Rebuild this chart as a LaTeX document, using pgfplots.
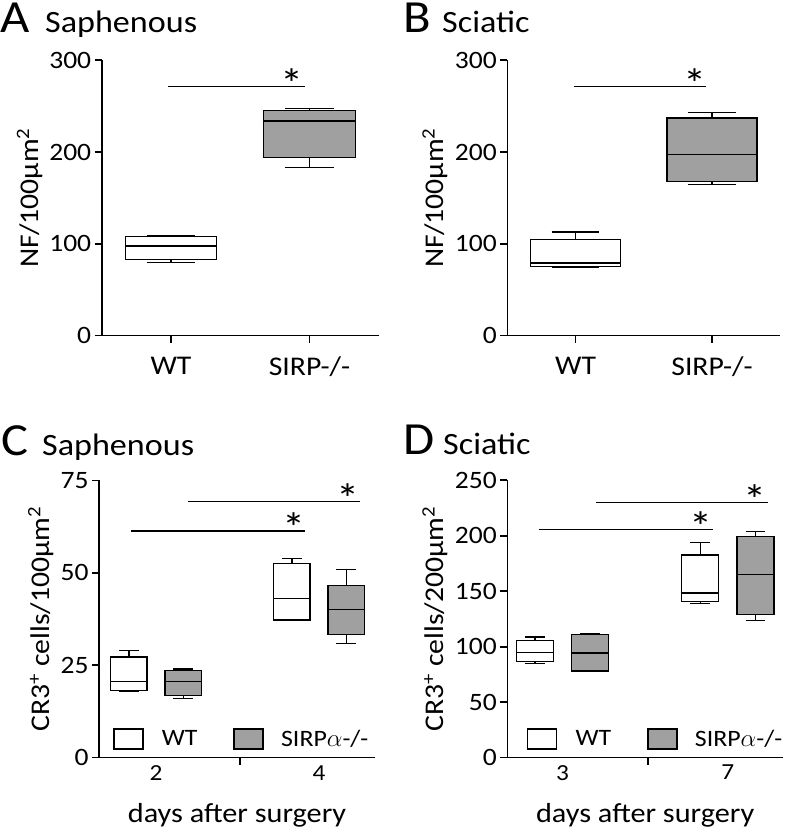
\documentclass[border=0pt]{standalone}
\usepackage{pgfplots}
\pgfplotsset{compat=1.18}
\usepgfplotslibrary{statistics}
\usepackage{fontspec}
\setmainfont{Carlito}[FakeStretch=1.1]
\definecolor{boxgray}{RGB}{160,160,160}

\tikzset{sigstar/.style={anchor=base, yshift=-12pt, inner sep=0pt, font=\fontsize{42}{44}\selectfont}}
\pgfplotsset{
  myax/.style={scale only axis, axis lines=left, axis line style={-, line width=1.6pt},
    tick align=outside, major tick length=7pt, tick style={line width=1.6pt, black},
    yticklabel style={font=\fontsize{25}{27}\selectfont},
    xticklabel style={font=\fontsize{27}{29}\selectfont},
    /pgf/number format/assume math mode=true,
    ylabel style={font=\fontsize{27}{29}\selectfont},
    xlabel style={font=\fontsize{27.5}{29}\selectfont},
    ylabel shift=0pt,
    clip=false, boxplot/draw direction=y},
  wt/.style={draw=black, fill=white, line width=1.3pt, forget plot},
  ko/.style={draw=black, fill=boxgray, line width=1.3pt, forget plot},
  sig/.style={black, line width=1.1pt, forget plot},
  leg/.style={legend style={draw=none, fill=none, legend columns=2, at={(#1,0.02)}, anchor=south west,
    font=\fontsize{23.5}{25}\selectfont, /tikz/every even column/.append style={column sep=34pt}}},
}
\newcommand{\wtimg}{\addlegendimage{legend image code/.code={\draw[fill=white, line width=1.3pt] (0pt,-10pt) rectangle (29pt,10pt); \path[draw=none, fill=none] (29pt,0pt) -- (46pt,0pt);}}}
\newcommand{\koimg}{\addlegendimage{legend image code/.code={\draw[fill=boxgray, line width=1.3pt] (0pt,-10pt) rectangle (29pt,10pt); \path[draw=none, fill=none] (29pt,0pt) -- (45pt,0pt);}}}

\begin{document}
\begin{tikzpicture}
\useasboundingbox (0pt,0pt) rectangle (787pt,832pt);

% titles
\node[anchor=base west, inner sep=0pt] at (0pt,799pt) {\fontsize{46}{48}\selectfont A};
\node[anchor=base west, inner sep=0pt] at (45pt,799pt) {\fontsize{31}{33}\selectfont Saphenous};
\node[anchor=base west, inner sep=0pt] at (403pt,799pt) {\fontsize{46}{48}\selectfont B};
\node[anchor=base west, inner sep=0pt] at (442pt,799pt) {\fontsize{31}{33}\selectfont Sciatic};
\node[anchor=base west, inner sep=0pt] at (1pt,376pt) {\fontsize{46}{48}\selectfont C};
\node[anchor=base west, inner sep=0pt] at (42pt,376pt) {\fontsize{31}{33}\selectfont Saphenous};
\node[anchor=base west, inner sep=0pt] at (403pt,377pt) {\fontsize{46}{48}\selectfont D};
\node[anchor=base west, inner sep=0pt] at (443pt,377pt) {\fontsize{31}{33}\selectfont Sciatic};

% Panel A
\begin{axis}[myax, at={(101.7pt,496.3pt)}, anchor=south west, width=277pt, height=275.4pt,
  xmin=-0.5, xmax=1.5, ymin=0, ymax=300, xtick={0,1}, xticklabels={WT,SIRP-/-},
  xticklabel style={yshift=-11pt},
  ytick={0,100,200,300}, ylabel={NF/100µm\textsuperscript{2}}]
\addplot[wt, boxplot prepared={draw position=0, box extend=0.66, whisker extend=0.35,
  lower whisker=79.5, lower quartile=82.8, median=97.7, upper quartile=108.2, upper whisker=109}] coordinates {};
\addplot[ko, boxplot prepared={draw position=1, box extend=0.66, whisker extend=0.35,
  lower whisker=183.4, lower quartile=194.3, median=233.9, upper quartile=245.6, upper whisker=247.4}] coordinates {};
\addplot[sig] coordinates {(-0.02,271.3) (0.97,271.3)};
\node[sigstar] at (axis cs:0.877,271.3) {*};
\end{axis}

% Panel B
\begin{axis}[myax, at={(507.3pt,496.3pt)}, anchor=south west, width=273pt, height=275.4pt,
  xmin=-0.5, xmax=1.5, ymin=0, ymax=300, xtick={0,1}, xticklabels={WT,SIRP-/-},
  xticklabel style={yshift=-11pt},
  ytick={0,100,200,300}, ylabel={NF/100µm\textsuperscript{2}}]
\addplot[wt, boxplot prepared={draw position=0, box extend=0.66, whisker extend=0.35,
  lower whisker=74.1, lower quartile=75.2, median=79.2, upper quartile=105, upper whisker=113}] coordinates {};
\addplot[ko, boxplot prepared={draw position=1, box extend=0.66, whisker extend=0.35,
  lower whisker=164.9, lower quartile=167.8, median=197.6, upper quartile=237.2, upper whisker=243.4}] coordinates {};
\addplot[sig] coordinates {(-0.015,271.3) (0.955,271.3)};
\node[sigstar] at (axis cs:0.877,271.3) {*};
\end{axis}

% Panel C
\begin{axis}[myax, leg=0.04, at={(99pt,74.3pt)}, anchor=south west, width=276pt, height=277.4pt,
  xmin=-0.05, xmax=5.03, ymin=0, ymax=75, xtick={2.55}, xticklabels={},
  extra x ticks={1,4}, extra x tick labels={2,4},
  extra x tick style={major tick length=0pt, xticklabel style={font=\fontsize{23}{25}\selectfont, yshift=-4pt}},
  xlabel shift=9pt,
  ytick={0,25,50,75}, ylabel={CR3\textsuperscript{+} cells/100µm\textsuperscript{2}},
  xlabel={days after surgery}]
\wtimg\addlegendentry{WT}
\koimg\addlegendentry{SIRP$\alpha$-/-}
\addplot[wt, boxplot prepared={draw position=0.5, box extend=0.67, whisker extend=0.36,
  lower whisker=18.0, lower quartile=18.2, median=20.6, upper quartile=27.2, upper whisker=28.9}] coordinates {};
\addplot[ko, boxplot prepared={draw position=1.5, box extend=0.67, whisker extend=0.36,
  lower whisker=16.0, lower quartile=16.9, median=20.6, upper quartile=23.5, upper whisker=24.0}] coordinates {};
\addplot[wt, boxplot prepared={draw position=3.5, box extend=0.67, whisker extend=0.36,
  lower whisker=37.1, lower quartile=37.2, median=43.0, upper quartile=52.5, upper whisker=53.9}] coordinates {};
\addplot[ko, boxplot prepared={draw position=4.5, box extend=0.67, whisker extend=0.36,
  lower whisker=30.9, lower quartile=33.4, median=40.0, upper quartile=46.5, upper whisker=50.8}] coordinates {};
\addplot[sig] coordinates {(0.54,61.3) (3.74,61.3)};
\addplot[sig] coordinates {(1.58,69.2) (4.75,69.2)};
\node[sigstar] at (axis cs:3.53,61.3) {*};
\node[sigstar] at (axis cs:4.54,69.2) {*};
\end{axis}

% Panel D
\begin{axis}[myax, leg=0.06, at={(507.3pt,74.3pt)}, anchor=south west, width=275.7pt, height=277.4pt,
  xmin=0, xmax=5, ymin=0, ymax=250, xtick={2.55}, xticklabels={},
  extra x ticks={1,4}, extra x tick labels={3,7},
  extra x tick style={major tick length=0pt, xticklabel style={font=\fontsize{23}{25}\selectfont, yshift=-4pt}},
  xlabel shift=9pt,
  ytick={0,50,100,150,200,250}, ylabel={CR3\textsuperscript{+} cells/200µm\textsuperscript{2}},
  xlabel={days after surgery}]
\wtimg\addlegendentry{WT}
\koimg\addlegendentry{SIRP$\alpha$-/-}
\addplot[wt, boxplot prepared={draw position=0.5, box extend=0.67, whisker extend=0.36,
  lower whisker=84.7, lower quartile=86.8, median=95, upper quartile=105.5, upper whisker=108.8}] coordinates {};
\addplot[ko, boxplot prepared={draw position=1.5, box extend=0.67, whisker extend=0.36,
  lower whisker=77.5, lower quartile=78.1, median=94.4, upper quartile=111.2, upper whisker=111.5}] coordinates {};
\addplot[wt, boxplot prepared={draw position=3.5, box extend=0.67, whisker extend=0.36,
  lower whisker=138.8, lower quartile=140.9, median=148.4, upper quartile=182.7, upper whisker=193.8}] coordinates {};
\addplot[ko, boxplot prepared={draw position=4.5, box extend=0.67, whisker extend=0.36,
  lower whisker=123.8, lower quartile=129.2, median=165.3, upper quartile=199.2, upper whisker=203.7}] coordinates {};
\addplot[sig] coordinates {(0.57,205.8) (3.73,205.8)};
\addplot[sig] coordinates {(1.6,229.6) (4.73,229.6)};
\node[sigstar] at (axis cs:3.51,205.8) {*};
\node[sigstar] at (axis cs:4.5,229.6) {*};
\end{axis}
\end{tikzpicture}
\end{document}
